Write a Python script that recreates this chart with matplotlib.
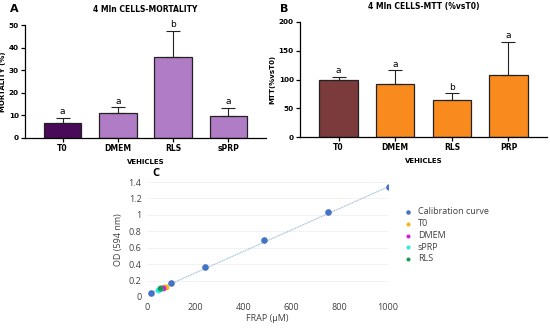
import matplotlib.pyplot as plt

# panel A - mortality
cats_a = ['T0', 'DMEM', 'RLS', 'sPRP']
mort = [6.5, 11, 36, 9.7]
mort_err = [2.5, 2.5, 11.5, 3.5]
mort_letters = ['a', 'a', 'b', 'a']

# panel B - MTT
cats_b = ['T0', 'DMEM', 'RLS', 'PRP']
mtt = [100, 93, 64, 107]
mtt_err = [4, 23, 12, 58]
mtt_letters = ['a', 'a', 'b', 'a']

# panel C - FRAP calibration
cal_x = [15, 100, 240, 487, 753, 1003]
cal_y = [0.05, 0.165, 0.365, 0.70, 1.04, 1.345]
samples = {
    'T0': ([72, 78], [0.12, 0.125], '#f5b31a'),
    'DMEM': ([60, 65], [0.11, 0.115], '#d020d0'),
    'sPRP': ([45, 52], [0.09, 0.10], '#30e8e0'),
    'RLS': ([56], [0.105], '#1a9a50'),
}

W, H = 550, 330
fig = plt.figure(figsize=(5.5, 3.3), dpi=100)


def box(l, t, r, b):
    return [l / W, 1 - b / H, (r - l) / W, (b - t) / H]


def prism_bar(ax, cats, vals, errs, letters, colors, ymax, step, title, ylabel):
    x = range(len(cats))
    ax.bar(x, vals, width=0.68, color=colors, edgecolor='#222222', linewidth=0.9)
    ax.errorbar(x, vals, yerr=[[0] * len(errs), errs], fmt='none', ecolor='#222222',
                elinewidth=0.8, capsize=5, capthick=0.8)
    for i, (v, e, l) in enumerate(zip(vals, errs, letters)):
        ax.text(i, v + e + ymax * 0.015, l, ha='center', va='bottom', fontsize=6.5)
    ax.set_xlim(-0.68, len(cats) - 0.32)
    ax.set_ylim(0, ymax)
    ax.set_yticks(range(0, ymax + 1, step))
    ax.set_xticks(list(x))
    ax.set_xticklabels(cats, fontweight='bold', fontsize=5.5)
    for t in ax.get_yticklabels():
        t.set_fontweight('bold')
        t.set_fontsize(5.2)
    ax.spines['top'].set_visible(False)
    ax.spines['right'].set_visible(False)
    ax.spines['left'].set_linewidth(0.9)
    ax.spines['bottom'].set_linewidth(0.9)
    ax.tick_params(length=3, width=0.9, pad=1.5)
    ax.set_title(title, fontsize=5.5, fontweight='bold', pad=9)
    ax.set_xlabel('VEHICLES', fontsize=5, fontweight='bold', labelpad=4)
    ax.set_ylabel(ylabel, fontsize=5, fontweight='bold', labelpad=2)


ax1 = fig.add_axes(box(25, 25, 266, 138))
prism_bar(ax1, cats_a, mort, mort_err, mort_letters,
          ['#4a0a5a', '#b07cc6', '#b07cc6', '#b07cc6'], 50, 10,
          '4 Mln CELLS-MORTALITY', 'MORTALITY (%)')
fig.text(10 / W, 1 - 9 / H, 'A', fontsize=8, fontweight='bold', va='center')

ax2 = fig.add_axes(box(300, 22, 547, 137))
prism_bar(ax2, cats_b, mtt, mtt_err, mtt_letters,
          ['#7b3a3c', '#f98a1e', '#f98a1e', '#f98a1e'], 200, 50,
          '4 Mln CELLS-MTT (%vsT0)', 'MTT(%vsT0)')
fig.text(280 / W, 1 - 9 / H, 'B', fontsize=8, fontweight='bold', va='center')

# panel C
ax3 = fig.add_axes(box(147, 182, 388, 297))
ax3.plot([cal_x[0], cal_x[-1]], [cal_y[0], cal_y[-1]], color='#9db8d8', lw=0.8, ls=(0, (1, 0.6)), zorder=1)
ax3.scatter(cal_x, cal_y, s=14, color='#4472c4', label='Calibration curve', zorder=3)
for name, (sx, sy, c) in samples.items():
    ax3.scatter(sx, sy, s=10, color=c, label=name, zorder=4)
ax3.set_xlim(0, 1000)
ax3.set_ylim(0, 1.4)
ax3.set_xticks([0, 200, 400, 600, 800, 1000])
ax3.set_yticks([0, 0.2, 0.4, 0.6, 0.8, 1.0, 1.2, 1.4])
ax3.set_yticklabels(['0', '0.2', '0.4', '0.6', '0.8', '1', '1.2', '1.4'])
ax3.grid(axis='y', color='#f0f0f0', lw=0.6)
ax3.set_axisbelow(True)
for s in ax3.spines.values():
    s.set_visible(False)
ax3.tick_params(length=0, labelsize=6.5, labelcolor='#404040', pad=4)
ax3.set_xlabel('FRAP (µM)', fontsize=6.5, color='#404040', labelpad=2)
ax3.set_ylabel('OD (594 nm)', fontsize=6.5, color='#404040', labelpad=4)
for t in ax3.get_xticklabels() + ax3.get_yticklabels():
    t.set_family('Open Sans')
ax3.xaxis.label.set_family('Open Sans')
ax3.yaxis.label.set_family('Open Sans')
ax3.legend(loc='upper left', bbox_to_anchor=(1.03, 0.81), frameon=False,
           handletextpad=0.1, labelspacing=0.3, markerscale=0.6, borderaxespad=0,
           prop={'family': 'Open Sans', 'size': 6.5}, labelcolor='#404040')
fig.text(152 / W, 1 - 173 / H, 'C', fontsize=8, fontweight='bold', va='center', family='Open Sans')

plt.savefig('out.png', dpi=100)
